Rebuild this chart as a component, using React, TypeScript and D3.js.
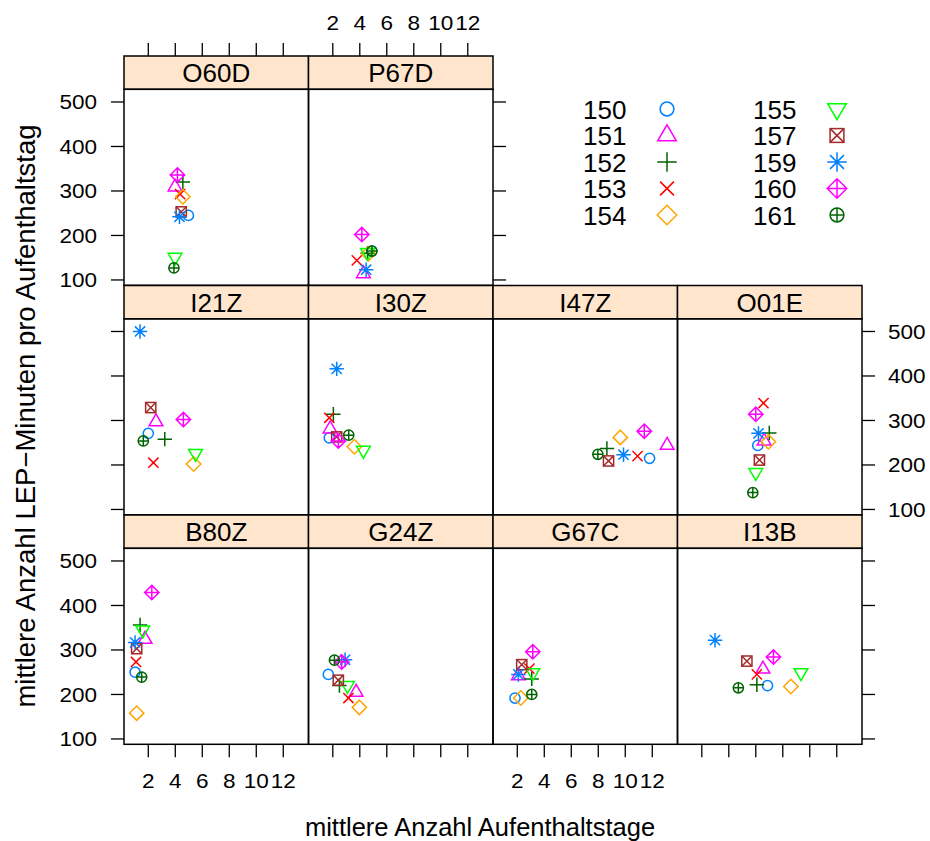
import React from "react";
import * as d3 from "d3";

// groups (pch 1..10, lattice superpose colours recycled)
const groups = ["150", "151", "152", "153", "154", "155", "157", "159", "160", "161"];
const groupColors = ["#0080ff", "#ff00ff", "#006400", "#ff0000", "#ffa500", "#00ff00", "#a52a2a", "#0080ff", "#ff00ff", "#006400"];

// [mittlere Aufenthaltstage, LEP-Minuten] per group, null = no value
type Pt = [number, number] | null;
const B80Z: Pt[] = [[1.02, 250], [1.76, 324], [1.39, 356], [1.09, 273], [1.14, 158], [1.59, 345], [1.14, 303], [1.02, 317], [2.26, 429], [1.51, 239]];
const G24Z: Pt[] = [[1.67, 245], [3.73, 205], [2.49, 220], [3.16, 192], [3.97, 171], [3.09, 220], [2.41, 232], [2.91, 278], [2.66, 273], [2.12, 277]];
const G67C: Pt[] = [[1.83, 192], [2.08, 242], [3.07, 235], [2.9, 258], [2.26, 192], [3.15, 249], [2.33, 267], [2.08, 245], [3.15, 296], [3.07, 200]];
const I13B: Pt[] = [[6.87, 220], [6.53, 257], [6.08, 222], [6.08, 245], [8.6, 218], [9.35, 249], [5.34, 275], [2.98, 322], [7.31, 284], [4.71, 215]];
const I21Z: Pt[] = [[2.0, 271], [2.57, 297], [3.22, 258], [2.38, 205], [5.36, 202], [5.5, 226], [2.18, 329], [1.39, 500], [4.6, 302], [1.63, 254]];
const I30Z: Pt[] = [[1.74, 261], [1.8, 281], [2.04, 314], [1.74, 306], [3.6, 241], [4.27, 233], [2.29, 263], [2.29, 416], [2.41, 254], [3.18, 267]];
const I47Z: Pt[] = [[11.8, 215], [13.1, 244], [8.64, 237], [10.91, 220], [9.63, 262], null, [8.76, 209], [9.87, 223], [11.41, 276], [7.97, 224]];
const O01E: Pt[] = [[6.15, 244], [6.62, 254], [7.0, 272], [6.57, 339], [6.94, 252], [6.0, 183], [6.27, 211], [6.2, 271], [6.0, 314], [5.78, 138]];
const O60D: Pt[] = [[4.97, 245], [3.98, 309], [4.56, 320], [4.36, 293], [4.56, 287], [3.98, 151], [4.44, 253], [4.31, 242], [4.16, 336], [3.9, 127]];
const P67D: Pt[] = [[4.89, 165], [4.27, 114], [4.57, 160], [3.78, 144], [4.64, 159], [4.57, 162], null, [4.47, 123], [4.15, 202], [4.9, 165]];

const xTicks = [2, 4, 6, 8, 10, 12];
const yTicks = [100, 200, 300, 400, 500];

const xTitle = "mittlere Anzahl Aufenthaltstage";
const yTitle = "mittlere Anzahl LEP\u2212Minuten pro Aufenthaltstag";

const width = 930;
const height = 841;
const left0 = 124;
const panelW = 184.5;
const top0 = 56;
const rowStep = 229.5;
const stripH = 33.3;
const plotH = 196;
const tickLen = 13;
const font = "'Liberation Sans', Arial, Helvetica, sans-serif";

const xScale = d3.scaleLinear().domain([0.2, 13.87]).range([0, panelW]);
const yScale = d3.scaleLinear().domain([88, 528.5]).range([plotH, 0]);

// rows counted from the top
const panels = [
  { name: "O60D", data: O60D, row: 0, col: 0 },
  { name: "P67D", data: P67D, row: 0, col: 1 },
  { name: "I21Z", data: I21Z, row: 1, col: 0 },
  { name: "I30Z", data: I30Z, row: 1, col: 1 },
  { name: "I47Z", data: I47Z, row: 1, col: 2 },
  { name: "O01E", data: O01E, row: 1, col: 3 },
  { name: "B80Z", data: B80Z, row: 2, col: 0 },
  { name: "G24Z", data: G24Z, row: 2, col: 1 },
  { name: "G67C", data: G67C, row: 2, col: 2 },
  { name: "I13B", data: I13B, row: 2, col: 3 },
];

const Symbol = ({ pch, x, y, r, color }) => {
  const s = Math.SQRT2 * r;
  let el = null;
  if (pch === 1) el = <circle r={r} />;
  if (pch === 2) el = <path d={`M0,${-1.555 * r}L${1.347 * r},${0.778 * r}L${-1.347 * r},${0.778 * r}Z`} />;
  if (pch === 3) el = <path d={`M${-s},0H${s}M0,${-s}V${s}`} />;
  if (pch === 4) el = <path d={`M${-r},${-r}L${r},${r}M${-r},${r}L${r},${-r}`} />;
  if (pch === 5) el = <path d={`M0,${-s}L${s},0L0,${s}L${-s},0Z`} />;
  if (pch === 6) el = <path d={`M0,${1.555 * r}L${1.347 * r},${-0.778 * r}L${-1.347 * r},${-0.778 * r}Z`} />;
  if (pch === 7)
    el = (
      <>
        <rect x={-r} y={-r} width={2 * r} height={2 * r} />
        <path d={`M${-r},${-r}L${r},${r}M${-r},${r}L${r},${-r}`} />
      </>
    );
  if (pch === 8) el = <path d={`M${-r},${-r}L${r},${r}M${-r},${r}L${r},${-r}M${-s},0H${s}M0,${-s}V${s}`} />;
  if (pch === 9) el = <path d={`M0,${-s}L${s},0L0,${s}L${-s},0ZM${-s},0H${s}M0,${-s}V${s}`} />;
  if (pch === 10)
    el = (
      <>
        <circle r={r} />
        <path d={`M${-r},0H${r}M0,${-r}V${r}`} />
      </>
    );
  return (
    <g transform={`translate(${x},${y})`} stroke={color} fill="none" strokeWidth={1.5}>
      {el}
    </g>
  );
};

const Label = ({ x, y, size, anchor = "middle", sx = 1, children }) => (
  <text
    transform={`translate(${x},${y}) scale(${sx},1)`}
    fontSize={size}
    fontFamily={font}
    textAnchor={anchor}
    fill="black"
  >
    {children}
  </text>
);

const App = () => {
  const rowsInCol = (c) => panels.filter((p) => p.col === c).map((p) => p.row);
  const colsInRow = (r) => panels.filter((p) => p.row === r).map((p) => p.col);
  const tickFont = 20.5;
  const tickSx = 1.1;

  return (
    <svg
      width={width}
      height={height}
      style={{ position: "absolute", left: 0, top: 0, background: "white" }}
    >
      {panels.map((p) => {
        const px = left0 + p.col * panelW;
        const py = top0 + p.row * rowStep;
        const plotTop = py + stripH;
        return (
          <g key={p.name}>
            <rect x={px} y={py} width={panelW} height={stripH} fill="#ffe5cc" stroke="black" strokeWidth={1.5} />
            <Label x={px + panelW / 2} y={py + stripH / 2 + 9.5} size={26}>
              {p.name}
            </Label>
            <rect x={px} y={plotTop} width={panelW} height={plotH} fill="none" stroke="black" strokeWidth={1.5} />
            {p.data.map((d, i) =>
              d ? (
                <Symbol
                  key={i}
                  pch={i + 1}
                  x={px + xScale(d[0])}
                  y={plotTop + yScale(d[1])}
                  r={5.1}
                  color={groupColors[i]}
                />
              ) : null
            )}
          </g>
        );
      })}

      {/* x axes: bottom of last row, top of first row */}
      {[0, 1, 2, 3].map((c) => {
        const px = left0 + c * panelW;
        const rows = rowsInCol(c);
        const bottomRow = Math.max(...rows);
        const topRow = Math.min(...rows);
        const yb = top0 + bottomRow * rowStep + stripH + plotH;
        const yt = top0 + topRow * rowStep;
        return (
          <g key={"x" + c}>
            {bottomRow === 2 &&
              xTicks.map((t) => (
                <g key={t}>
                  <line x1={px + xScale(t)} x2={px + xScale(t)} y1={yb} y2={yb + tickLen} stroke="black" strokeWidth={1.3} />
                  {c % 2 === 0 && (
                    <Label x={px + xScale(t)} y={yb + 44} size={tickFont} sx={tickSx}>
                      {t}
                    </Label>
                  )}
                </g>
              ))}
            {topRow === 0 &&
              xTicks.map((t) => (
                <g key={"t" + t}>
                  <line x1={px + xScale(t)} x2={px + xScale(t)} y1={yt} y2={yt - tickLen} stroke="black" strokeWidth={1.3} />
                  {c % 2 === 1 && (
                    <Label x={px + xScale(t)} y={yt - 26} size={tickFont} sx={tickSx}>
                      {t}
                    </Label>
                  )}
                </g>
              ))}
          </g>
        );
      })}

      {/* y axes: left of first column, right of last panel in each row */}
      {[0, 1, 2].map((r) => {
        const plotTop = top0 + r * rowStep + stripH;
        const xl = left0;
        const xr = left0 + (Math.max(...colsInRow(r)) + 1) * panelW;
        const leftLabels = r % 2 === 0;
        return (
          <g key={"y" + r}>
            {yTicks.map((t) => (
              <g key={t}>
                <line x1={xl} x2={xl - tickLen} y1={plotTop + yScale(t)} y2={plotTop + yScale(t)} stroke="black" strokeWidth={1.3} />
                <line x1={xr} x2={xr + tickLen} y1={plotTop + yScale(t)} y2={plotTop + yScale(t)} stroke="black" strokeWidth={1.3} />
                {leftLabels && (
                  <Label x={xl - 27} y={plotTop + yScale(t) + 7.5} size={tickFont} anchor="end" sx={tickSx}>
                    {t}
                  </Label>
                )}
                {!leftLabels && (
                  <Label x={xr + 26} y={plotTop + yScale(t) + 7.5} size={tickFont} anchor="start" sx={tickSx}>
                    {t}
                  </Label>
                )}
              </g>
            ))}
          </g>
        );
      })}

      {/* key */}
      {groups.map((g, i) => {
        const col = Math.floor(i / 5);
        const row = i % 5;
        const ty = 109 + row * 26.5;
        const tx = 583 + col * 170;
        return (
          <g key={g}>
            <Label x={tx} y={ty + 9.5} size={26} anchor="start">
              {g}
            </Label>
            <Symbol pch={i + 1} x={tx + 84} y={ty} r={6.9} color={groupColors[i]} />
          </g>
        );
      })}

      <Label x={480} y={836} size={25.5}>
        {xTitle}
      </Label>
      <text
        transform={`translate(35,416) rotate(-90)`}
        fontSize={27.5}
        fontFamily={font}
        textAnchor="middle"
        fill="black"
      >
        {yTitle}
      </text>
    </svg>
  );
};

export default App;
